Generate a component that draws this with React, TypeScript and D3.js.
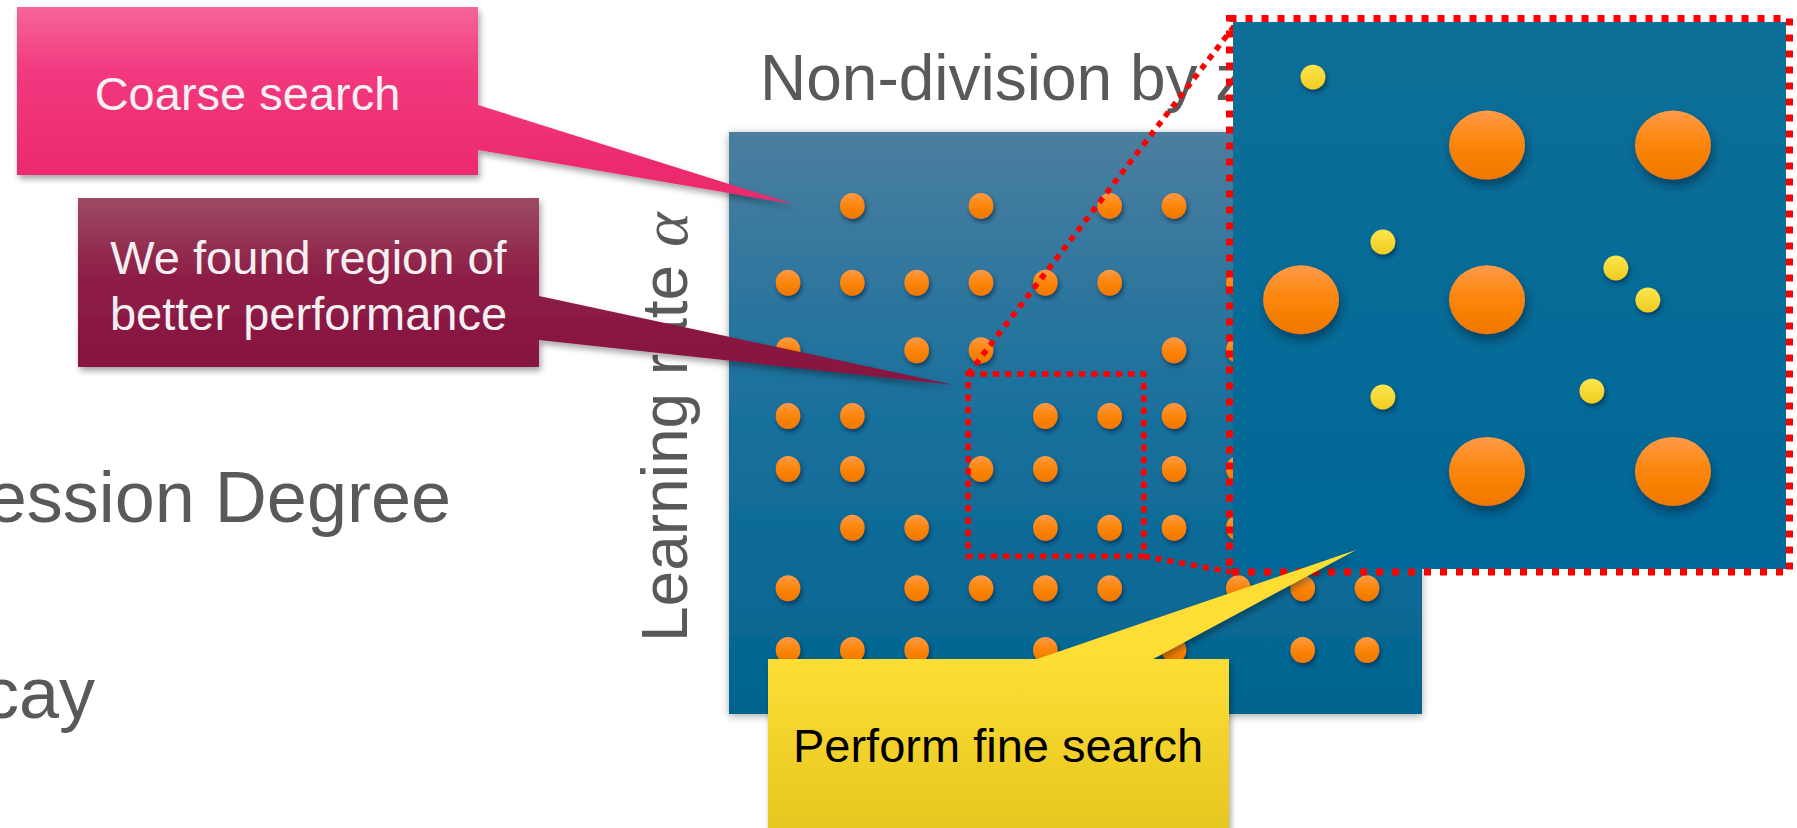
import React from 'react';
import * as d3 from 'd3';

// Coarse search grid: learning-rate rows (y values) and the epsilon columns sampled in each row
const coarseRowValues = [8.73, 7.41, 6.25, 5.12, 4.21, 3.2, 2.16, 1.1];
const coarseRowColumns = [
  [2, 4, 6, 7],
  [1, 2, 3, 4, 5, 6, 8],
  [1, 3, 4, 7, 8],
  [1, 2, 5, 6, 7],
  [1, 2, 4, 5, 7, 8],
  [2, 3, 5, 6, 7, 8],
  [1, 3, 4, 5, 6, 8, 9, 10],
  [1, 2, 3, 5, 7, 9, 10],
];
// region of better performance (data units)
const focusX = [3.8, 6.53];
const focusY = [2.71, 5.84];
// domain shown in the magnified panel
const zoomX = [3.634, 6.608];
const zoomY = [2.626, 5.844];
// fine search samples inside the region
const fineSamples: [number, number][] = [
  [4.064, 5.52],
  [4.44, 4.55],
  [5.693, 4.397],
  [5.865, 4.209],
  [4.44, 3.638],
  [5.564, 3.673],
];

const titleText = 'Non-division by zero';
const yLabelText = 'Learning rate ';
const bulletTexts = ['Regression Degree', 'Weight Decay'];
const coarseLabel = ['Coarse search'];
const regionLabel = ['We found region of', 'better performance'];
const fineLabel = ['Perform fine search'];

const FONT = '"Liberation Sans", Arial, Helvetica, sans-serif';
const GRAY = '#595959';

export default function App() {
  const panel = { x0: 729, x1: 1422, y0: 132, y1: 714 };
  const zpanel = { x0: 1233, x1: 1786, y0: 22, y1: 569 };

  const xMain = d3.scaleLinear().domain([1, 10]).range([788, 1367]);
  const yMain = d3.scaleLinear().domain([0, 10]).range([panel.y1, panel.y0]);
  const xZoom = d3.scaleLinear().domain(zoomX).range([zpanel.x0, zpanel.x1]);
  const yZoom = d3.scaleLinear().domain(zoomY).range([zpanel.y1, zpanel.y0]);

  const coarse: [number, number][] = [];
  coarseRowValues.forEach((v, i) => coarseRowColumns[i].forEach((c) => coarse.push([c, v])));
  const kept = coarse.filter(
    ([c, v]) => c >= focusX[0] && c <= focusX[1] && v >= focusY[0] && v <= focusY[1]
  );

  const fx0 = xMain(focusX[0]);
  const fx1 = xMain(focusX[1]);
  const fy0 = yMain(focusY[1]);
  const fy1 = yMain(focusY[0]);

  const line = d3.line();

  const pinkPath = 'M17,7 H478 V105 L793,204 L478,150 V175 H17 Z';
  const maroonPath = 'M78,198 H539 V296 L954,385 L539,340 V367 H78 Z';
  const yellowPath = 'M768,659 H1037 L1356,550 L1153,659 H1229 V840 H768 Z';

  return (
    <div style={{ position: 'absolute', left: 0, top: 0 }}>
      <svg width={1797} height={828} style={{ display: 'block', fontFamily: FONT }}>
        <defs>
          <linearGradient id="panelGrad" x1="0" y1="0" x2="0" y2="1">
            <stop offset="0%" stopColor="#4b7e9f" />
            <stop offset="45%" stopColor="#1b719d" />
            <stop offset="100%" stopColor="#006490" />
          </linearGradient>
          <linearGradient id="zoomGrad" x1="0" y1="0" x2="0" y2="1">
            <stop offset="0%" stopColor="#0d6f97" />
            <stop offset="100%" stopColor="#006898" />
          </linearGradient>
          <linearGradient id="orangeGrad" x1="0" y1="0" x2="0" y2="1">
            <stop offset="0%" stopColor="#ff9a48" />
            <stop offset="50%" stopColor="#fb8508" />
            <stop offset="100%" stopColor="#f07800" />
          </linearGradient>
          <linearGradient id="yellowDot" x1="0" y1="0" x2="0" y2="1">
            <stop offset="0%" stopColor="#fde64e" />
            <stop offset="100%" stopColor="#f0cc1e" />
          </linearGradient>
          <linearGradient id="pinkGrad" gradientUnits="userSpaceOnUse" x1="0" y1="7" x2="0" y2="175">
            <stop offset="0%" stopColor="#f4659a" />
            <stop offset="40%" stopColor="#f2387e" />
            <stop offset="100%" stopColor="#ec2a6e" />
          </linearGradient>
          <linearGradient id="maroonGrad" gradientUnits="userSpaceOnUse" x1="0" y1="198" x2="0" y2="367">
            <stop offset="0%" stopColor="#9c4b62" />
            <stop offset="45%" stopColor="#8e1f48" />
            <stop offset="100%" stopColor="#87133f" />
          </linearGradient>
          <linearGradient id="yellowGrad" gradientUnits="userSpaceOnUse" x1="0" y1="659" x2="0" y2="828">
            <stop offset="0%" stopColor="#fedd36" />
            <stop offset="100%" stopColor="#e6c71f" />
          </linearGradient>
          <filter id="boxShadow" x="-10%" y="-10%" width="130%" height="140%">
            <feDropShadow dx="2" dy="4" stdDeviation="3" floodColor="#000" floodOpacity="0.35" />
          </filter>
          <filter id="panelShadow" x="-5%" y="-5%" width="110%" height="110%">
            <feDropShadow dx="0" dy="2" stdDeviation="4" floodColor="#000" floodOpacity="0.35" />
          </filter>
          <filter id="dotShadow" x="-50%" y="-50%" width="200%" height="220%">
            <feDropShadow dx="1.5" dy="3" stdDeviation="2" floodColor="#00243a" floodOpacity="0.6" />
          </filter>
          <filter id="bigShadow" x="-50%" y="-50%" width="200%" height="220%">
            <feDropShadow dx="2" dy="6" stdDeviation="5" floodColor="#00243a" floodOpacity="0.55" />
          </filter>
        </defs>

        <rect x={0} y={0} width={1797} height={828} fill="#fff" />

        {/* background bullet text */}
        <text x={451} y={522} textAnchor="end" fontSize={72} fill={GRAY}>
          {bulletTexts[0]}
        </text>
        <text x={95} y={718} textAnchor="end" fontSize={72} fill={GRAY}>
          {bulletTexts[1]}
        </text>

        {/* title */}
        <text x={760} y={100} fontSize={64} fill={GRAY}>
          {titleText}
        </text>

        {/* y label */}
        <text transform="translate(687,642) rotate(-90)" fontSize={64} fill={GRAY}>
          {yLabelText}
          <tspan fontFamily='"Liberation Serif", "DejaVu Serif", serif' fontStyle="italic" fontSize={66}>
            α
          </tspan>
        </text>

        {/* main panel */}
        <rect
          x={panel.x0}
          y={panel.y0}
          width={panel.x1 - panel.x0}
          height={panel.y1 - panel.y0}
          fill="url(#panelGrad)"
          filter="url(#panelShadow)"
        />

        {/* coarse grid points */}
        <g filter="url(#dotShadow)">
          {coarse.map(([c, v], i) => (
            <ellipse key={i} cx={xMain(c)} cy={yMain(v)} rx={12.3} ry={13} fill="url(#orangeGrad)" />
          ))}
        </g>

        {/* focus rectangle and connectors */}
        <rect
          x={fx0}
          y={fy0}
          width={fx1 - fx0}
          height={fy1 - fy0}
          fill="none"
          stroke="#ff0000"
          strokeWidth={5.5}
          strokeDasharray="6.5 5.8"
        />
        <path
          d={line([
            [fx0, fy0],
            [xZoom(zoomX[0]) + 2, yZoom(zoomY[1]) + 3],
          ]) as string}
          stroke="#ff0000"
          strokeWidth={5.5}
          strokeDasharray="6 6"
          fill="none"
        />
        <path
          d={line([
            [fx1, fy1],
            [xZoom(zoomX[0]) - 2, yZoom(zoomY[0]) + 3],
          ]) as string}
          stroke="#ff0000"
          strokeWidth={5.5}
          strokeDasharray="6 6"
          fill="none"
        />

        {/* pink callout */}
        <path d={pinkPath} fill="url(#pinkGrad)" filter="url(#boxShadow)" />
        <text x={247.5} y={110} textAnchor="middle" fontSize={47} fill="#f4f0f2">
          {coarseLabel[0]}
        </text>

        {/* maroon callout */}
        <path d={maroonPath} fill="url(#maroonGrad)" filter="url(#boxShadow)" />
        {regionLabel.map((t, i) => (
          <text key={i} x={308.5} y={274 + i * 56} textAnchor="middle" fontSize={47} fill="#f4f0f2">
            {t}
          </text>
        ))}

        {/* magnified panel */}
        <rect
          x={zpanel.x0}
          y={zpanel.y0}
          width={zpanel.x1 - zpanel.x0}
          height={zpanel.y1 - zpanel.y0}
          fill="url(#zoomGrad)"
        />
        <rect
          x={1229.5}
          y={18.5}
          width={560}
          height={553.5}
          fill="none"
          stroke="#ff0000"
          strokeWidth={7}
          strokeDasharray="7 9"
        />
        <g filter="url(#bigShadow)">
          {kept.map(([c, v], i) => (
            <ellipse key={i} cx={xZoom(c)} cy={yZoom(v)} rx={38} ry={34.5} fill="url(#orangeGrad)" />
          ))}
        </g>
        <g filter="url(#dotShadow)">
          {fineSamples.map(([c, v], i) => (
            <circle key={i} cx={xZoom(c)} cy={yZoom(v)} r={12.4} fill="url(#yellowDot)" />
          ))}
        </g>

        {/* yellow callout */}
        <path d={yellowPath} fill="url(#yellowGrad)" filter="url(#boxShadow)" />
        <text x={998} y={762} textAnchor="middle" fontSize={47} fill="#000">
          {fineLabel[0]}
        </text>
      </svg>
    </div>
  );
}
